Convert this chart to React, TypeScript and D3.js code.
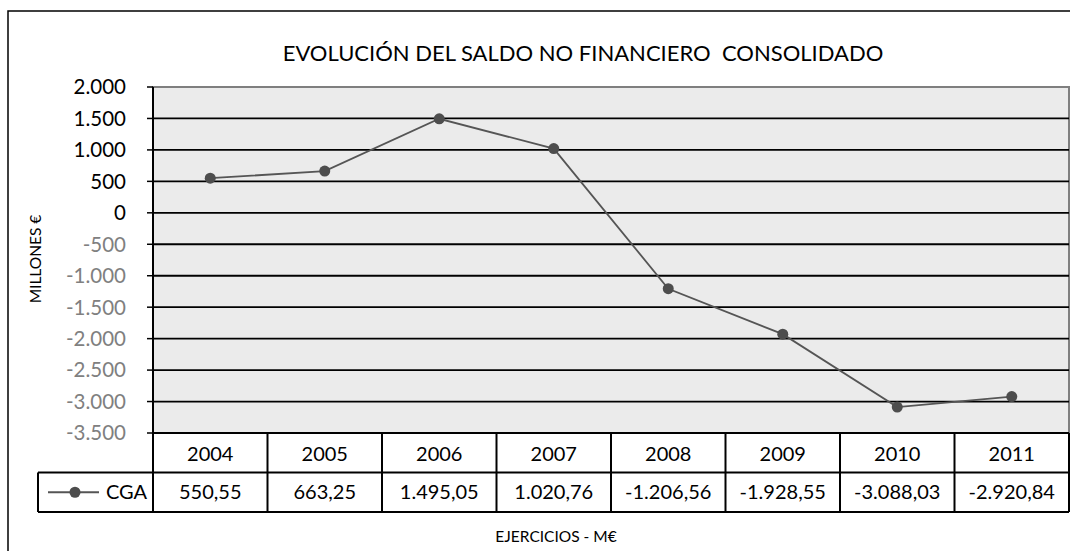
import React from "react";
import * as d3 from "d3";

const years = ["2004", "2005", "2006", "2007", "2008", "2009", "2010", "2011"];
const cga = [550.55, 663.25, 1495.05, 1020.76, -1206.56, -1928.55, -3088.03, -2920.84];
const yTicks = [2000, 1500, 1000, 500, 0, -500, -1000, -1500, -2000, -2500, -3000, -3500];
const seriesName = "CGA";
const title = "EVOLUCIÓN DEL SALDO NO FINANCIERO  CONSOLIDADO";
const yTitle = "MILLONES €";
const xTitle = "EJERCICIOS - M€";

const loc = d3.formatLocale({ decimal: ",", thousands: ".", grouping: [3], currency: ["", "€"], minus: "-" } as any);
const fmtVal = loc.format(",.2f");
const fmtTick = loc.format(",.0f");

const FONT = "Lato, 'Open Sans', sans-serif";

export default function App() {
  const W = 1070, H = 551;
  const left = 153, right = 1069, top = 87, bottom = 433;
  const row1 = 472.5, row2 = 512;
  const legendLeft = 38;
  const x = d3.scaleBand<string>().domain(years).range([left, right]);
  const y = d3.scaleLinear().domain([-3500, 2000]).range([bottom, top]);
  const line = d3.line<number>().x((_, i) => x(years[i])! + x.bandwidth() / 2).y((d) => y(d));

  return (
    <svg width={W} height={H} style={{ position: "absolute", left: 0, top: 0 }} fontFamily={FONT}>
      <rect x={0} y={0} width={W} height={H} fill="#fff" />
      <rect x={8} y={11} width={W + 20} height={H + 20} fill="none" stroke="#000" strokeWidth={1.5} />
      <text x={583} y={61} textAnchor="middle" fontSize={22} fill="#000" style={{ whiteSpace: "pre" }}>{title}</text>
      {/* plot area */}
      <rect x={left} y={top} width={right - left} height={bottom - top} fill="#ebebeb" stroke="#7f7f7f" strokeWidth={2} />
      {yTicks.filter((t) => t !== 2000 && t !== -3500).map((t) => (
        <line key={t} x1={left} x2={right} y1={y(t)} y2={y(t)} stroke="#000" strokeWidth={1.8} />
      ))}
      {/* y axis */}
      <line x1={left} x2={left} y1={top} y2={row2} stroke="#000" strokeWidth={2} />
      {yTicks.map((t) => (
        <g key={t}>
          <line x1={left - 6} x2={left} y1={y(t)} y2={y(t)} stroke="#000" strokeWidth={1.5} />
          <text x={126} y={y(t)} dy="0.36em" textAnchor="end" fontSize={20.5} fill={t < 0 ? "#808080" : "#000"}>{fmtTick(t)}</text>
        </g>
      ))}
      <text transform={`translate(41,259) rotate(-90)`} textAnchor="middle" fontSize={15.5} fill="#000">{yTitle}</text>
      {/* series */}
      <path d={line(cga) || ""} fill="none" stroke="#555" strokeWidth={1.8} />
      {cga.map((v, i) => (
        <circle key={i} cx={x(years[i])! + x.bandwidth() / 2} cy={y(v)} r={5.5} fill="#4d4d4d" />
      ))}
      {/* data table */}
      <line x1={left} x2={right} y1={bottom} y2={bottom} stroke="#000" strokeWidth={2} />
      <line x1={legendLeft} x2={right} y1={row1} y2={row1} stroke="#000" strokeWidth={2} />
      <line x1={legendLeft} x2={right} y1={row2} y2={row2} stroke="#000" strokeWidth={2} />
      <line x1={legendLeft} x2={legendLeft} y1={row1} y2={row2} stroke="#000" strokeWidth={2} />
      {years.map((yr, i) => (
        <g key={yr}>
          <line x1={x(yr)! + x.bandwidth()} x2={x(yr)! + x.bandwidth()} y1={bottom} y2={row2} stroke="#000" strokeWidth={2} />
          <text x={x(yr)! + x.bandwidth() / 2} y={(bottom + row1) / 2 + 1} dy="0.36em" textAnchor="middle" fontSize={20} fill="#000">{yr}</text>
          <text x={x(yr)! + x.bandwidth() / 2} y={(row1 + row2) / 2} dy="0.36em" textAnchor="middle" fontSize={20} fill="#000">{fmtVal(cga[i])}</text>
        </g>
      ))}
      <line x1={48} x2={99} y1={(row1 + row2) / 2} y2={(row1 + row2) / 2} stroke="#555" strokeWidth={1.8} />
      <circle cx={75} cy={(row1 + row2) / 2} r={5.5} fill="#4d4d4d" />
      <text x={106} y={(row1 + row2) / 2} dy="0.36em" fontSize={20} fill="#000">{seriesName}</text>
      <text x={556} y={542} textAnchor="middle" fontSize={15.5} fill="#000">{xTitle}</text>
    </svg>
  );
}
